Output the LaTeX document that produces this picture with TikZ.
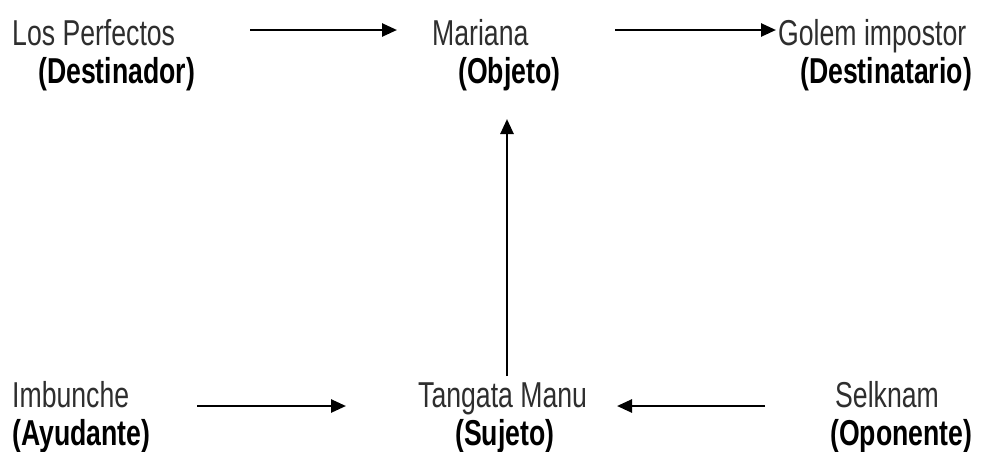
\documentclass[tikz,border=0pt]{standalone}
\usepackage{fontspec}
\setmainfont{Liberation Sans}[FakeStretch=0.74]
\usetikzlibrary{arrows.meta}
\definecolor{txtgray}{HTML}{2E2E2E}
\tikzset{
  lbl/.style={anchor=base west, inner sep=0pt, font=\fontsize{36}{40}\selectfont, text=txtgray},
  role/.style={anchor=base west, inner sep=0pt, font=\fontsize{36}{40}\selectfont\bfseries, text=black},
  conn/.style={line width=2.6pt, -{Triangle[length=15pt,width=13pt]}}
}
\begin{document}
\begin{tikzpicture}[x=1pt,y=-1pt]
\useasboundingbox[fill=white] (0,0) rectangle (982,451);
% top row
\node[lbl]  (lp)  at (12,45)  {Los Perfectos};
\node[role] (des) at (38,83)  {(Destinador)};
\node[lbl]  (mar) at (432,45) {Mariana};
\node[role] (obj) at (458,83) {(Objeto)};
\node[lbl]  (gol) at (778,45) {Golem impostor};
\node[role] (dst) at (800,83) {(Destinatario)};
% bottom row
\node[lbl]  (imb) at (12,407)  {Imbunche};
\node[role] (ayu) at (12,445)  {(Ayudante)};
\node[lbl]  (tan) at (418,407) {Tangata Manu};
\node[role] (suj) at (455,445) {(Sujeto)};
\node[lbl]  (sel) at (835,407) {Selknam};
\node[role] (opo) at (830,445) {(Oponente)};
% connector ends
\coordinate (a1s) at (250,30);  \coordinate (a1e) at (397,30);
\coordinate (a2s) at (615,30);  \coordinate (a2e) at (776,30);
\coordinate (a3s) at (197,406); \coordinate (a3e) at (346,406);
\coordinate (a4s) at (765,406); \coordinate (a4e) at (617,406);
\coordinate (a5s) at (507,376); \coordinate (a5e) at (507,119);
\draw[conn] (a1s) -- (a1e);
\draw[conn] (a2s) -- (a2e);
\draw[conn] (a3s) -- (a3e);
\draw[conn] (a4s) -- (a4e);
\draw[conn] (a5s) -- (a5e);
\end{tikzpicture}
\end{document}
